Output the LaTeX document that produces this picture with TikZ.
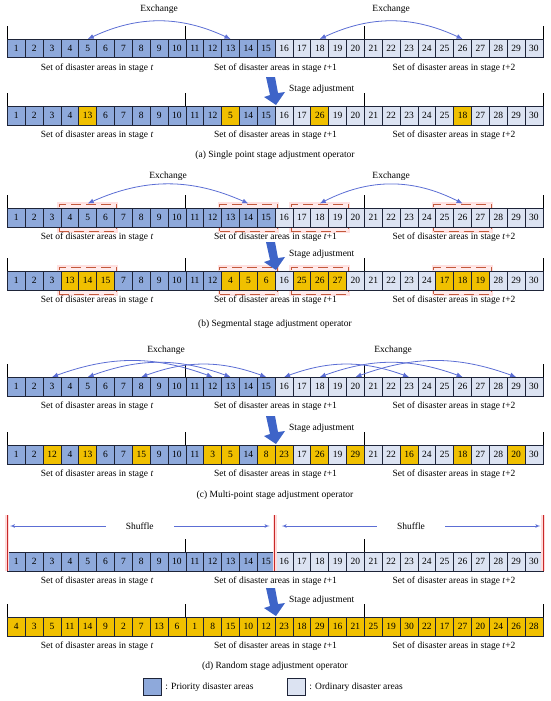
\documentclass[tikz,border=0pt]{standalone}
\usepackage{fontspec}
\setmainfont{Liberation Serif}
\usepackage{tikz}
\usetikzlibrary{arrows,arrows.meta,fit,calc,positioning}
\pgfdeclarelayer{background}
\pgfsetlayers{background,main}
\definecolor{prio}{RGB}{142,169,219}
\definecolor{ordi}{RGB}{220,227,242}
\definecolor{swap}{RGB}{240,192,0}
\definecolor{arcblue}{RGB}{92,110,212}
\definecolor{bigblue}{RGB}{62,100,200}
\definecolor{seg}{RGB}{196,89,60}
\definecolor{cutred}{RGB}{200,40,40}
\definecolor{edge}{RGB}{30,36,56}
\tikzstyle{cell} = [draw=edge, line width=0.8pt, rectangle, anchor=north west,
minimum width=17.85pt, minimum height=18.5pt, inner sep=0pt]
\tikzstyle{lbl} = [inner sep=1pt]
\tikzstyle{tick} = [draw=black, line width=0.8pt]
\tikzstyle{xarc} = [{Latex[length=6pt,width=5pt]}-{Latex[length=6pt,width=5pt]}, draw=arcblue, line width=0.8pt]
\tikzstyle{segbox} = [draw=seg, dash pattern=on 10pt off 5pt, line width=1pt, fill=red!8,
inner xsep=1.5pt, inner ysep=4pt, preaction={draw=red!12, line width=4pt, solid}]
\tikzstyle{cut} = [draw=cutred, line width=1pt, preaction={draw=red!14, line width=4pt}]
\tikzstyle{shuf} = [<->, draw=arcblue, line width=0.7pt]
\tikzstyle{adjarrow} = [fill=bigblue]
\tikzstyle{legbox} = [draw=edge, line width=1.3pt, minimum width=18pt, minimum height=17pt, inner sep=0pt]

% one row of 30 disaster areas: name, top, values, swapped positions
\newcommand{\arearow}[4]{%
  \foreach \v [count=\i] in {#3} {
    \def\cellfill{prio}
    \ifnum\i>15 \def\cellfill{ordi}\fi
    \foreach \q in {#4} {\ifnum\q=\i \xdef\cellfill{swap}\fi}
    \node[cell, fill=\cellfill] (#1-\i) at ({7+(\i-1)*17.85},-#2) {\v};
  }
  \foreach \k in {1,11,21} \draw[tick] (#1-\k.north west) -- ++(0,13);
  \draw[tick] (#1-30.north east) -- ++(0,13);
  \node[lbl] (#1-s1) at ($(#1-5.south east)+(0,-10)$) {Set of disaster areas in stage \textit{t}};
  \node[lbl] (#1-s2) at ($(#1-15.south east)+(0,-10)$) {Set of disaster areas in stage \textit{t}+1};
  \node[lbl] (#1-s3) at ($(#1-25.south east)+(0,-10)$) {Set of disaster areas in stage \textit{t}+2};
}
% big arrow between two rows: name, top of the lower row
\newcommand{\stageshift}[2]{%
  \fill[adjarrow] (266,-#2+29) -- (275,-#2+29) -- (278,-#2+13) -- (285,-#2+14) -- (276,-#2+1)
    -- (264,-#2+9) -- (270,-#2+11) -- cycle;
  \node[anchor=west, inner sep=0pt] (#1) at (289,-#2+17) {Stage adjustment};
}

\begin{document}
\begin{tikzpicture}[x=1pt, y=1pt, >=latex', font=\fontsize{9.5}{11}\selectfont]
\useasboundingbox (0,0) rectangle (550,-701);

% (a) single point
\arearow{a1}{39}{1,...,30}{0}
\draw[xarc] (a1-5.north) to[bend left=25] node[above=4pt] {Exchange} (a1-13.north);
\draw[xarc] (a1-18.north) to[bend left=25] node[above=4pt] {Exchange} (a1-26.north);
\stageshift{a-adj}{106}
\arearow{a2}{106}{1,2,3,4,13,6,7,8,9,10,11,12,5,14,15,16,17,26,19,20,21,22,23,24,25,18,27,28,29,30}{5,13,18,26}
\node (a-cap) at (275,-155) {(a) Single point stage adjustment operator};

% (b) segmental
\arearow{b1}{208}{1,...,30}{0}
\stageshift{b-adj}{271}
\arearow{b2}{271}{1,2,3,13,14,15,7,8,9,10,11,12,4,5,6,16,25,26,27,20,21,22,23,24,17,18,19,28,29,30}{4,5,6,13,14,15,17,18,19,25,26,27}
\begin{pgfonlayer}{background}
\foreach \r in {b1,b2}
  \foreach \p/\q in {4/6,13/15,17/19,25/27}
    \node[segbox, fit=(\r-\p)(\r-\q)] (\r-g\p) {};
\end{pgfonlayer}
\draw[xarc] (b1-g4.north) to[bend left=24] node[above=0pt] {Exchange} (b1-g13.north);
\draw[xarc] (b1-g17.north) to[bend left=27] node[above=0pt] {Exchange} (b1-g25.north);
\node (b-cap) at (275,-324) {(b) Segmental stage adjustment operator};

% (c) multi-point
\arearow{c1}{377}{1,...,30}{0}
\foreach \p/\q in {3/12,5/13,8/15,16/23,18/26,20/29}
  \draw[xarc] (c1-\p.north) to[bend left=20] (c1-\q.north);
\node (c-x1) at (166,-350) {Exchange};
\node (c-x2) at (393,-350) {Exchange};
\stageshift{c-adj}{445}
\arearow{c2}{445}{1,2,12,4,13,6,7,15,9,10,11,3,5,14,8,23,17,26,19,29,21,22,16,24,25,18,27,28,20,30}{3,5,8,12,13,15,16,18,20,23,26,29}
\node (c-cap) at (275,-495) {(c) Multi-point stage adjustment operator};

% (d) random
\arearow{d1}{552}{1,...,30}{0}
\foreach \k in {1,16} \draw[cut] (d1-\k.south west) -- ++(0,56);
\draw[cut] (d1-30.south east) -- ++(0,56);
\coordinate (sh0) at ($(d1-1.north west)+(3,26)$);
\coordinate (sh1) at ($(d1-15.north east)+(-6,26)$);
\coordinate (sh2) at ($(d1-16.north west)+(7,26)$);
\coordinate (sh3) at ($(d1-30.north east)+(-3,26)$);
\draw[shuf] (sh0) -- node[fill=white, inner xsep=20pt] (d-sh1) {Shuffle} (sh1);
\draw[shuf] (sh2) -- node[fill=white, inner xsep=20pt] (d-sh2) {Shuffle} (sh3);
\stageshift{d-adj}{617}
\arearow{d2}{617}{4,3,5,11,14,9,2,7,13,6,1,8,15,10,12,23,18,29,16,21,25,19,30,22,17,27,20,24,26,28}{1,...,30}
\node (d-cap) at (275,-666) {(d) Random stage adjustment operator};

% legend
\node[legbox, fill=prio] (leg-p) at (152.5,-687) {};
\node[right=3pt of leg-p, inner sep=0pt] (leg-pt) {: Priority disaster areas};
\node[legbox, fill=ordi] (leg-o) at (296.5,-687) {};
\node[right=3pt of leg-o, inner sep=0pt] (leg-ot) {: Ordinary disaster areas};
\end{tikzpicture}
\end{document}
